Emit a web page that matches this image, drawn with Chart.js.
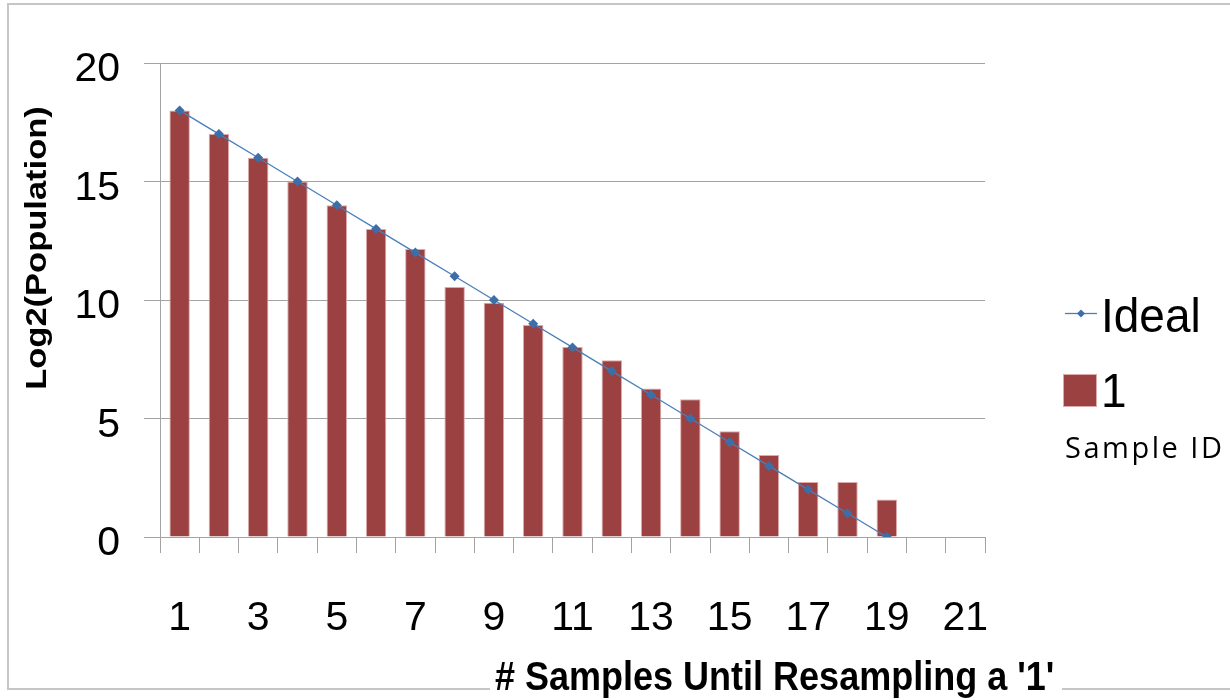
<!DOCTYPE html>
<html>
<head>
<meta charset="utf-8">
<title>Log2(Population)</title>
<script src="https://cdn.jsdelivr.net/npm/chart.js@4.4.1/dist/chart.umd.min.js"></script>
<style>
  html, body { margin: 0; padding: 0; background: #ffffff; }
  #wrap { width: 1230px; height: 700px; position: relative; }
</style>
</head>
<body>
<div id="wrap"><canvas id="chart" width="1230" height="700"></canvas></div>
<script>
// Number of samples drawn before a '1' comes up again
const categories = ['1','2','3','4','5','6','7','8','9','10','11','12','13','14','15','16','17','18','19','20','21'];

// log2 of the population for sample 1
const sampleCounts = [18, 17, 16, 15, 14, 13, 12.15, 10.55, 9.88, 8.95, 8.02, 7.46, 6.27, 5.81, 4.46, 3.46, 2.32, 2.32, 1.58, null, null];

// ideal halving: one bit lost per step
const idealValues = [18, 17, 16, 15, 14, 13, 12, 11, 10, 9, 8, 7, 6, 5, 4, 3, 2, 1, 0, null, null];

const yTicks = [0, 5, 10, 15, 20];
const seriesNames = ['Ideal', '1'];
const legendTitle = 'Sample ID';
const xTitle = "# Samples Until Resampling a '1'";
const yTitle = 'Log2(Population)';

const BAR_COLOR = '#9b4141';
const LINE_COLOR = '#4a7ebb';
const MARKER_COLOR = '#3c6ea8';
const GRID_COLOR = '#a3a3a3';
const SANS = '"Liberation Sans", Arial, sans-serif';

// Frame around the figure, with a gap where the x title sits
const framePlugin = {
  id: 'frame',
  beforeDraw(chart) {
    const ctx = chart.ctx;
    ctx.save();
    ctx.strokeStyle = '#c6c6c6';
    ctx.lineWidth = 2;
    ctx.beginPath();
    ctx.moveTo(1230, 4); ctx.lineTo(8, 4); ctx.lineTo(8, 689); ctx.lineTo(490, 689);
    ctx.moveTo(1062, 689); ctx.lineTo(1230, 689);
    ctx.stroke();
    ctx.restore();
  }
};

// Axis titles and the legend on the right
const annotatePlugin = {
  id: 'annotate',
  afterDraw(chart) {
    const ctx = chart.ctx;
    ctx.save();
    ctx.fillStyle = '#000';

    // x title (slightly tall lettering)
    ctx.save();
    ctx.translate(495, 690);
    ctx.scale(1, 1.15);
    ctx.font = 'bold 36px ' + SANS;
    ctx.textAlign = 'left';
    ctx.textBaseline = 'alphabetic';
    ctx.fillText(xTitle, 0, 0);
    ctx.restore();

    // y title, rotated and stretched along its length
    ctx.save();
    ctx.translate(38, 248);
    ctx.rotate(-Math.PI / 2);
    ctx.scale(1.15, 1);
    ctx.font = 'bold 30px ' + SANS;
    ctx.textAlign = 'center';
    ctx.textBaseline = 'middle';
    ctx.fillText(yTitle, 0, 0);
    ctx.restore();

    // legend: line series
    const lineDs = chart.data.datasets[0];
    const barDs = chart.data.datasets[1];
    ctx.strokeStyle = lineDs.borderColor;
    ctx.lineWidth = 1.3;
    ctx.beginPath();
    ctx.moveTo(1065, 313.5); ctx.lineTo(1097, 313.5);
    ctx.stroke();
    ctx.fillStyle = lineDs.pointBackgroundColor;
    ctx.beginPath();
    ctx.moveTo(1081, 309.5); ctx.lineTo(1085, 313.5); ctx.lineTo(1081, 317.5); ctx.lineTo(1077, 313.5);
    ctx.closePath();
    ctx.fill();

    ctx.fillStyle = '#000';
    ctx.font = '46px ' + SANS;
    ctx.save();
    ctx.translate(1101, 332);
    ctx.scale(1, 1.06);
    ctx.fillText(lineDs.label, 0, 0);
    ctx.restore();

    // legend: bar series
    ctx.fillStyle = barDs.backgroundColor;
    ctx.fillRect(1063, 374, 34, 33);
    ctx.strokeStyle = barDs.borderColor;
    ctx.lineWidth = 1;
    ctx.strokeRect(1063.5, 374.5, 33, 32);
    ctx.fillStyle = '#000';
    ctx.save();
    ctx.translate(1101, 407);
    ctx.scale(1, 1.06);
    ctx.fillText(barDs.label, 0, 0);
    ctx.restore();

    // legend caption
    ctx.font = '29px "Open Sans", "Noto Sans", sans-serif';
    const w = ctx.measureText(legendTitle).width;
    const n = legendTitle.length;
    if ('letterSpacing' in ctx && w < 157) {
      ctx.letterSpacing = ((157 - w) / (n - 1)).toFixed(2) + 'px';
    }
    ctx.fillText(legendTitle, 1065, 458);
    ctx.restore();
  }
};

new Chart(document.getElementById('chart'), {
  type: 'bar',
  data: {
    labels: categories,
    datasets: [
      {
        type: 'line',
        label: seriesNames[0],
        data: idealValues,
        borderColor: LINE_COLOR,
        borderWidth: 1.3,
        pointStyle: 'rectRot',
        pointRadius: 5,
        pointBackgroundColor: MARKER_COLOR,
        pointBorderColor: MARKER_COLOR,
        pointBorderWidth: 0,
        tension: 0,
        spanGaps: false,
        order: 0
      },
      {
        type: 'bar',
        label: seriesNames[1],
        data: sampleCounts,
        backgroundColor: BAR_COLOR,
        borderColor: '#dcaaaa',
        borderWidth: 1,
        categoryPercentage: 1,
        barPercentage: 0.52,
        order: 1
      }
    ]
  },
  options: {
    responsive: false,
    animation: false,
    devicePixelRatio: 1,
    layout: { padding: { left: 0, top: 63, right: 245, bottom: 0 } },
    plugins: {
      legend: { display: false },
      tooltip: { enabled: false },
      title: { display: false }
    },
    scales: {
      x: {
        type: 'category',
        offset: true,
        grid: {
          offset: true,
          drawOnChartArea: false,
          drawTicks: true,
          tickLength: 16,
          color: GRID_COLOR,
          lineWidth: 1
        },
        border: { display: true, color: GRID_COLOR, width: 1 },
        ticks: {
          autoSkip: false,
          maxRotation: 0,
          minRotation: 0,
          padding: 41,
          color: '#000',
          font: { family: SANS, size: 41 },
          callback: function (value, index) {
            return index % 2 === 0 ? categories[index] : '';
          }
        },
        afterFit(scale) { scale.height = 163; }
      },
      y: {
        min: 0,
        max: 20,
        afterBuildTicks(scale) { scale.ticks = yTicks.map(v => ({ value: v })); },
        grid: {
          drawOnChartArea: true,
          drawTicks: true,
          tickLength: 16,
          color: GRID_COLOR,
          lineWidth: 1
        },
        border: { display: true, color: GRID_COLOR, width: 1 },
        ticks: {
          padding: 24,
          labelOffset: 7,
          color: '#000',
          font: { family: SANS, size: 41 }
        },
        afterFit(scale) { scale.width = 160; }
      }
    }
  },
  plugins: [framePlugin, annotatePlugin]
});
</script>
</body>
</html>
